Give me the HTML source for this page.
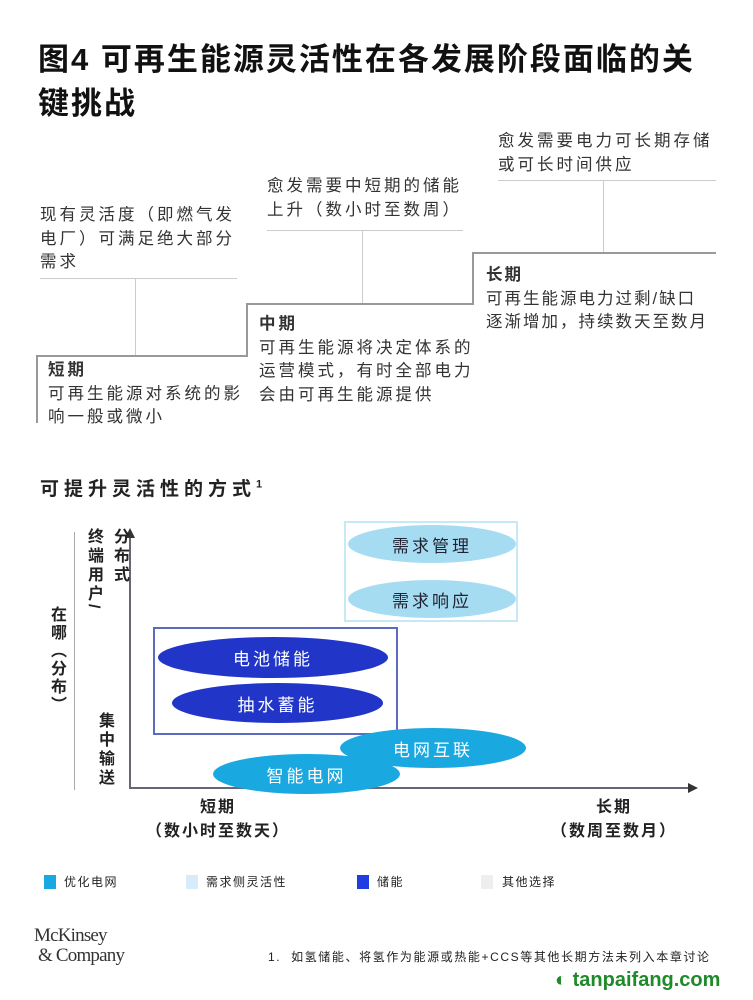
<!DOCTYPE html>
<html><head><meta charset="utf-8"><style>
body{margin:0;width:753px;height:1000px;background:#fff;position:relative;overflow:hidden;font-family:"Liberation Sans","Noto Sans CJK SC",sans-serif;color:#222}
.a{position:absolute;white-space:nowrap}
.t{font-size:16.5px;line-height:23.5px;color:#333;letter-spacing:3px}
.b{font-weight:bold}
.l{position:absolute;background:#ccc}
.s{position:absolute;background:#999}
.e{position:absolute;border-radius:50%;display:flex;align-items:center;justify-content:center;font-size:17px;letter-spacing:3px}
.v{writing-mode:vertical-rl;font-weight:bold;font-size:16px;letter-spacing:3px}
</style></head><body>
<div class="a b" style="left:38px;top:38px;font-size:31px;line-height:44px;letter-spacing:2px;color:#111">图4 可再生能源灵活性在各发展阶段面临的关<br>键挑战</div>

<div class="a t" style="left:498px;top:130px">愈发需要电力可长期存储<br>或可长时间供应</div>
<div class="a t" style="left:267px;top:175px">愈发需要中短期的储能<br>上升（数小时至数周）</div>
<div class="a t" style="left:40px;top:204px">现有灵活度（即燃气发<br>电厂）可满足绝大部分<br>需求</div>

<div class="l" style="left:498px;top:180px;width:218px;height:1px"></div>
<div class="l" style="left:603px;top:180px;width:1px;height:73px"></div>
<div class="l" style="left:267px;top:230px;width:196px;height:1px"></div>
<div class="l" style="left:362px;top:230px;width:1px;height:74px"></div>
<div class="l" style="left:40px;top:278px;width:197px;height:1px"></div>
<div class="l" style="left:135px;top:278px;width:1px;height:78px"></div>

<div class="s" style="left:36px;top:355px;width:212px;height:2px"></div>
<div class="s" style="left:36px;top:355px;width:2px;height:68px"></div>
<div class="s" style="left:246px;top:303px;width:2px;height:54px"></div>
<div class="s" style="left:246px;top:303px;width:228px;height:2px"></div>
<div class="s" style="left:472px;top:252px;width:2px;height:53px"></div>
<div class="s" style="left:472px;top:252px;width:244px;height:2px"></div>

<div class="a t" style="left:48px;top:359px"><b>短期</b><br>可再生能源对系统的影<br>响一般或微小</div>
<div class="a t" style="left:259px;top:313px"><b>中期</b><br>可再生能源将决定体系的<br>运营模式，有时全部电力<br>会由可再生能源提供</div>
<div class="a t" style="left:486px;top:264px;letter-spacing:2px"><b>长期</b><br>可再生能源电力过剩/缺口<br>逐渐增加，持续数天至数月</div>

<div class="a b" style="left:40px;top:474px;font-size:19px;letter-spacing:5px">可提升灵活性的方式<sup style="font-size:11px">1</sup></div>

<div class="l" style="left:74px;top:532px;width:1px;height:258px;background:#aaa"></div>
<div class="s" style="left:129px;top:538px;width:2px;height:251px;background:#667"></div>
<div class="a" style="left:125px;top:528px;width:0;height:0;border-left:5px solid transparent;border-right:5px solid transparent;border-bottom:10px solid #333"></div>
<div class="s" style="left:129px;top:787px;width:560px;height:2px;background:#667"></div>
<div class="a" style="left:688px;top:783px;width:0;height:0;border-top:5px solid transparent;border-bottom:5px solid transparent;border-left:10px solid #333"></div>

<div class="a v" style="left:44px;top:606px;letter-spacing:2px">在哪（分布）</div>
<div class="a v" style="left:80px;top:528px;line-height:26px">分布式<br>终端用户/</div>
<div class="a v" style="left:92px;top:712px">集中输送</div>

<div class="a" style="left:344px;top:521px;width:170px;height:97px;border:2px solid #c7e9f5"></div>
<div class="a" style="left:153px;top:627px;width:241px;height:104px;border:2px solid #5b6bc0"></div>

<div class="e" style="left:348px;top:525px;width:168px;height:38px;background:#a6dcf2;color:#223">需求管理</div>
<div class="e" style="left:348px;top:580px;width:168px;height:38px;background:#a6dcf2;color:#223">需求响应</div>
<div class="e" style="left:158px;top:637px;width:230px;height:41px;background:#2136c8;color:#fff">电池储能</div>
<div class="e" style="left:172px;top:683px;width:211px;height:40px;background:#2136c8;color:#fff">抽水蓄能</div>
<div class="e" style="left:340px;top:728px;width:186px;height:40px;background:#1aa8e0;color:#fff">电网互联</div>
<div class="e" style="left:213px;top:754px;width:187px;height:40px;background:#1aa8e0;color:#fff">智能电网</div>

<div class="a b" style="left:138px;top:796px;width:160px;text-align:center;font-size:16px;line-height:24px;letter-spacing:2px">短期<br>（数小时至数天）</div>
<div class="a b" style="left:534px;top:796px;width:160px;text-align:center;font-size:16px;line-height:24px;letter-spacing:2px">长期<br>（数周至数月）</div>

<div class="a" style="left:44px;top:875px;width:12px;height:14px;background:#1aa8e0"></div>
<div class="a" style="left:64px;top:873px;font-size:12px;letter-spacing:1.5px">优化电网</div>
<div class="a" style="left:186px;top:875px;width:12px;height:14px;background:#d6ecf8"></div>
<div class="a" style="left:206px;top:873px;font-size:12px;letter-spacing:1.5px">需求侧灵活性</div>
<div class="a" style="left:357px;top:875px;width:12px;height:14px;background:#1f3de0"></div>
<div class="a" style="left:377px;top:873px;font-size:12px;letter-spacing:1.5px">储能</div>
<div class="a" style="left:481px;top:875px;width:12px;height:14px;background:#eee"></div>
<div class="a" style="left:502px;top:873px;font-size:12px;letter-spacing:1.5px">其他选择</div>

<div class="a" style="left:34px;top:926px;font-family:'Liberation Serif',serif;font-size:19px;line-height:20px;letter-spacing:-0.8px;color:#333">McKinsey<br>&nbsp;&amp; Company</div>
<div class="a" style="left:268px;top:948px;font-size:12px;color:#222;letter-spacing:1.6px">1.&nbsp; 如氢储能、将氢作为能源或热能+CCS等其他长期方法未列入本章讨论</div>
<div class="a b" style="left:555px;top:969px;font-size:20px;color:#1f8a2a">◐ tanpaifang.com</div>
</body></html>
